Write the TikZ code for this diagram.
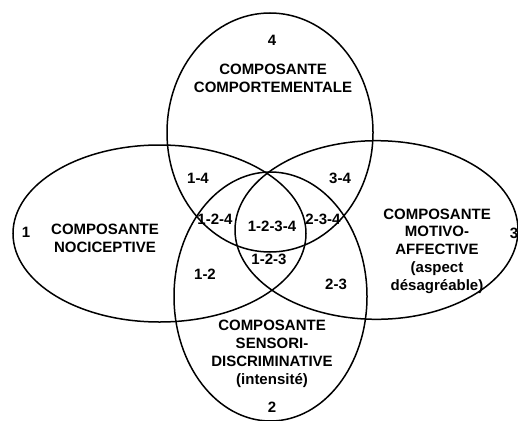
\documentclass[tikz,border=0pt]{standalone}
\usepackage{fontspec}
\setmainfont{Liberation Sans}
\begin{document}
\begin{tikzpicture}[x=1pt,y=-1pt,
  venn/.style={draw=black, line width=1.5pt},
  lbl/.style={font=\fontsize{15}{17.8}\selectfont\bfseries, align=center, inner sep=0pt, text=black}]
\useasboundingbox[fill=white] (0,0) rectangle (518,420);
% ellipses
\draw[venn] (270,132.5) ellipse (103pt and 119.5pt);   % 4 top
\draw[venn] (270.5,296.5) ellipse (96.5pt and 124.5pt);% 2 bottom
\draw[venn] (159.5,233.5) ellipse (146.5pt and 88.5pt);% 1 left
\draw[venn] (376.5,230) ellipse (141.5pt and 89.3pt);  % 3 right
% component labels
\node[lbl] (n4) at (272,40) {4};
\node[lbl] (c4) at (273,78.5) {COMPOSANTE\\COMPORTEMENTALE};
\node[lbl] (n1) at (26,232) {1};
\node[lbl] (c1) at (105,238) {COMPOSANTE\\NOCICEPTIVE};
\node[lbl] (n3) at (514,233) {3};
\node[lbl] (c3) at (437,251) {COMPOSANTE\\MOTIVO-\\AFFECTIVE\\(aspect\\désagréable)};
\node[lbl] (c2) at (272,354) {COMPOSANTE\\SENSORI-\\DISCRIMINATIVE\\(intensité)};
\node[lbl] (n2) at (272,407) {2};
% intersections
\node[lbl] (i14) at (198,178) {1-4};
\node[lbl] (i34) at (340,178) {3-4};
\node[lbl] (i124) at (215,219) {1-2-4};
\node[lbl] (i1234) at (272,226) {1-2-3-4};
\node[lbl] (i234) at (323,219) {2-3-4};
\node[lbl] (i123) at (269,259) {1-2-3};
\node[lbl] (i12) at (205,274) {1-2};
\node[lbl] (i23) at (336,284) {2-3};
\end{tikzpicture}
\end{document}
